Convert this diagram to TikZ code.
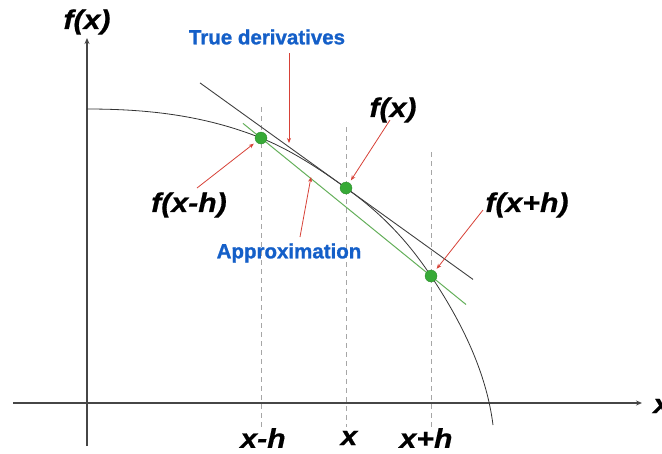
\documentclass[tikz,border=0pt]{standalone}
\usepackage{fontspec}
\usetikzlibrary{arrows.meta}
\newfontfamily\lblfont[FakeStretch=1.12,FakeBold=0.6]{Liberation Sans}
\newfontfamily\bluefont[FakeBold=1.2]{Liberation Sans}
\definecolor{lblue}{RGB}{20,95,200}
\definecolor{dotgreen}{RGB}{55,170,55}
\definecolor{lgreen}{RGB}{100,175,90}
\definecolor{lred}{RGB}{215,65,55}
\definecolor{axisgray}{RGB}{70,70,70}
\tikzset{
  axis/.style={draw=axisgray, line width=1.1pt, -{Stealth[length=6pt,width=5pt]}},
  curveline/.style={draw=black!80, line width=0.8pt},
  tangentline/.style={draw=black!75, line width=0.9pt},
  approxline/.style={draw=lgreen, line width=1pt},
  guide/.style={draw=black!35, line width=0.8pt, dash pattern=on 5pt off 4pt},
  pt/.style={circle, fill=dotgreen, draw=dotgreen!80!black, line width=0.3pt, minimum size=12pt, inner sep=0pt},
  redarrow/.style={draw=lred, line width=0.8pt, -{Stealth[length=5pt,width=4pt]}},
  blacklbl/.style={font=\lblfont\bfseries\itshape\fontsize{27}{27}\selectfont, inner sep=0pt},
  bluelbl/.style={font=\bluefont\bfseries\fontsize{20.5}{20.5}\selectfont, text=lblue, inner sep=0pt},
}
\begin{document}
\begin{tikzpicture}[x=1pt,y=-1pt]
\useasboundingbox (0,0) rectangle (662,453);
% guides
\draw[guide] (261,107) -- (261,427);
\draw[guide] (346,127) -- (346,427);
\draw[guide] (431,152) -- (431,427);
% axes
\coordinate (xs) at (13,403);
\coordinate (xe) at (642,403);
\coordinate (ys) at (87,446);
\coordinate (ye) at (87,38);
\draw[axis] (xs) -- (xe);
\draw[axis] (ys) -- (ye);
% curve
\draw[curveline] (87,109) .. controls (145.7,109) and (203.3,114.9) .. (261,138)
  .. controls (289.3,149.3) and (317.7,167.6) .. (346,188)
  .. controls (374.3,208.4) and (402.7,233.5) .. (431,276)
  .. controls (461,321) and (486.3,371.4) .. (493,425);
% lines
\coordinate (ts) at (200,82.9);
\coordinate (te) at (473,279.4);
\draw[tangentline] (ts) -- (te);
\coordinate (gs) at (243,123.4);
\coordinate (ge) at (466,304.5);
\draw[approxline] (gs) -- (ge);
% points
\node[pt] (p1) at (261,138) {};
\node[pt] (p2) at (346,188) {};
\node[pt] (p3) at (431,276) {};
% labels
\node[blacklbl] (fy) at (87,22) {f(x)};
\node[blacklbl] (fx) at (393,110) {f(x)};
\node[blacklbl] (fxm) at (189,205) {f(x-h)};
\node[blacklbl] (fxp) at (527,205) {f(x+h)};
\node[bluelbl] (td) at (267,37) {True derivatives};
\node[bluelbl] (ap) at (289,253) {Approximation};
\node[blacklbl] (lxm) at (263,438) {x-h};
\node[blacklbl] (lx) at (349,438) {x};
\node[blacklbl] (lxp) at (426,438) {x+h};
\node[blacklbl, anchor=west] (lxa) at (653,406) {x};
% red arrows
\coordinate (a1) at (289,53);
\coordinate (t1) at (289,143);
\draw[redarrow] (a1) -- (t1);
\coordinate (a2) at (390,120);
\draw[redarrow, shorten >=3pt] (a2) -- (p2);
\coordinate (a3) at (197,188);
\draw[redarrow, shorten >=3pt] (a3) -- (p1);
\coordinate (a4) at (483,210);
\draw[redarrow, shorten >=3pt] (a4) -- (p3);
\coordinate (a5) at (300,237);
\coordinate (t5) at (311,177);
\draw[redarrow] (a5) -- (t5);
\end{tikzpicture}
\end{document}
